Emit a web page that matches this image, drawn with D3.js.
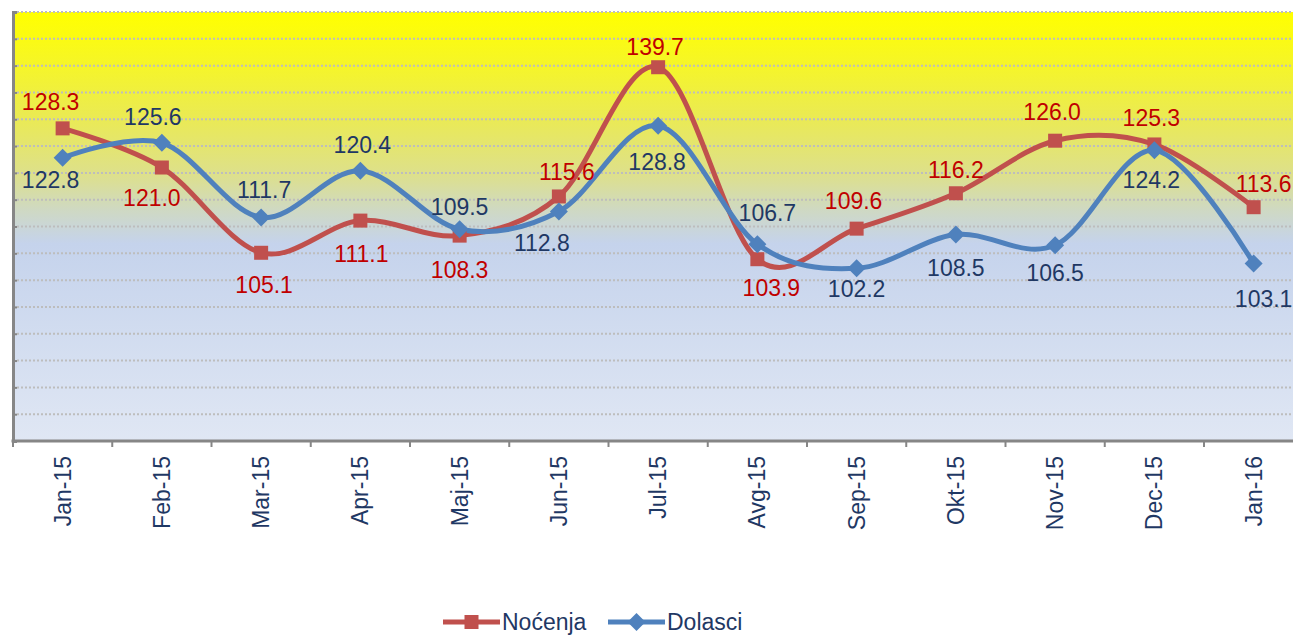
<!DOCTYPE html>
<html>
<head>
<meta charset="utf-8">
<script src="https://cdn.jsdelivr.net/npm/d3@7"></script>
<style>
  html, body { margin: 0; padding: 0; background: #ffffff; }
  svg { display: block; font-family: "Liberation Sans", Arial, sans-serif; }
</style>
</head>
<body>
<svg id="chart" width="1293" height="635"></svg>
<script>
// ---- data ----
const categories = ["Jan-15","Feb-15","Mar-15","Apr-15","Maj-15","Jun-15","Jul-15","Avg-15","Sep-15","Okt-15","Nov-15","Dec-15","Jan-16"];
const nocenja = [128.3, 121.0, 105.1, 111.1, 108.3, 115.6, 139.7, 103.9, 109.6, 116.2, 126.0, 125.3, 113.6];
const dolasci = [122.8, 125.6, 111.7, 120.4, 109.5, 112.8, 128.8, 106.7, 102.2, 108.5, 106.5, 124.2, 103.1];
const seriesNames = ["Noćenja", "Dolasci"];
const yTicks = [70, 75, 80, 85, 90, 95, 100, 105, 110, 115, 120, 125, 130, 135, 140, 145, 150];

// label placement offsets (pixels, relative to point): [dx, dy of baseline]
const nocenjaLabelOffsets = [[-12,-18],[-10,38],[3,40],[1,41],[0,42],[8,-16],[-3,-12],[14,37],[-3,-20],[0,-15],[-3,-21],[-3,-18],[10,-15]];
const dolasciLabelOffsets = [[-12,30],[-9,-18],[3,-19],[2,-18],[0,-14],[-17,40],[-1,44],[10,-23],[0,29],[0,41],[0,36],[-3,38],[10,43]];

(function () {
// ---- layout ----
const svg = d3.select("#chart");
const plotLeft = 13, plotTop = 12, plotBottom = 441;
const step = 99.25;
const plotRight = plotLeft + step * categories.length;

const x = d3.scaleBand().domain(categories).range([plotLeft, plotRight]).padding(0);
const y = d3.scaleLinear().domain([70, 150]).range([plotBottom, plotTop]);

const redLine = "#C0504D", blueLine = "#4F81BD";
const redText = "#C00000", blueText = "#1F3864";
const axisColor = "#868686";

// background gradient
const defs = svg.append("defs");
const grad = defs.append("linearGradient").attr("id", "bg").attr("x1", 0).attr("y1", 0).attr("x2", 0).attr("y2", 1);
[[0, "#ffff00"], [0.06, "#fbfb12"], [0.25, "#eaea55"], [0.38, "#dde08c"], [0.46, "#cfd9c2"], [0.54, "#c5d3ec"], [1, "#e0e7f4"]]
  .forEach(([o, c]) => grad.append("stop").attr("offset", o).attr("stop-color", c));

svg.append("rect")
  .attr("x", plotLeft).attr("y", plotTop)
  .attr("width", plotRight - plotLeft).attr("height", plotBottom - plotTop)
  .attr("fill", "url(#bg)");

// gridlines
svg.append("g").selectAll("line").data(yTicks.filter(t => t > 70)).join("line")
  .attr("x1", plotLeft).attr("x2", plotRight)
  .attr("y1", d => y(d)).attr("y2", d => y(d))
  .attr("stroke", "#bdbdbd").attr("stroke-width", 2)
  .attr("stroke-dasharray", "2,2");

// left axis
const yAxis = d3.axisRight(y).tickValues(yTicks).tickSize(4).tickFormat("");
const gy = svg.append("g").attr("transform", `translate(${plotLeft},0)`).call(yAxis);
gy.select(".domain").attr("stroke", axisColor).attr("stroke-width", 3);
gy.selectAll(".tick line").attr("stroke", axisColor).attr("stroke-width", 2);

// bottom axis
const boundaries = d3.range(categories.length + 1).map(i => plotLeft + i * x.step());
svg.append("g").selectAll("line").data(boundaries).join("line")
  .attr("x1", d => d).attr("x2", d => d)
  .attr("y1", plotBottom).attr("y2", plotBottom + 6)
  .attr("stroke", axisColor).attr("stroke-width", 2);
svg.append("line")
  .attr("x1", plotLeft - 1.5).attr("x2", plotRight)
  .attr("y1", plotBottom).attr("y2", plotBottom)
  .attr("stroke", axisColor).attr("stroke-width", 3);

// x labels
svg.append("g").selectAll("text").data(categories).join("text")
  .attr("transform", d => `translate(${x(d) + x.bandwidth() / 2},456) rotate(-90)`)
  .attr("text-anchor", "end")
  .attr("dy", "0.35em")
  .attr("font-size", 23)
  .attr("fill", blueText)
  .text(d => d);

// lines
const cx = (d, i) => x(categories[i]) + x.bandwidth() / 2;
const line = d3.line().x((d, i) => cx(d, i)).y(d => y(d)).curve(d3.curveCardinal.tension(0));

svg.append("path").datum(nocenja).attr("d", line)
  .attr("fill", "none").attr("stroke", redLine).attr("stroke-width", 5);
svg.append("path").datum(dolasci).attr("d", line)
  .attr("fill", "none").attr("stroke", blueLine).attr("stroke-width", 5);

// markers
const sq = 14, dm = 9;
svg.append("g").selectAll("rect").data(nocenja).join("rect")
  .attr("x", (d, i) => cx(d, i) - sq / 2).attr("y", d => y(d) - sq / 2)
  .attr("width", sq).attr("height", sq)
  .attr("fill", redLine);
const diamond = (px, py, r) => `M${px},${py - r}L${px + r},${py}L${px},${py + r}L${px - r},${py}Z`;
svg.append("g").selectAll("path").data(dolasci).join("path")
  .attr("d", (d, i) => diamond(cx(d, i), y(d), dm))
  .attr("fill", blueLine);

// data labels
const fmt = d3.format(".1f");
svg.append("g").selectAll("text").data(nocenja).join("text")
  .attr("x", (d, i) => cx(d, i) + nocenjaLabelOffsets[i][0])
  .attr("y", (d, i) => y(d) + nocenjaLabelOffsets[i][1])
  .attr("text-anchor", "middle").attr("font-size", 23).attr("fill", redText)
  .text(d => fmt(d));
svg.append("g").selectAll("text").data(dolasci).join("text")
  .attr("x", (d, i) => cx(d, i) + dolasciLabelOffsets[i][0])
  .attr("y", (d, i) => y(d) + dolasciLabelOffsets[i][1])
  .attr("text-anchor", "middle").attr("font-size", 23).attr("fill", blueText)
  .text(d => fmt(d));

// legend
const legend = svg.append("g");
const legItems = [
  { name: seriesNames[0], color: redLine, x0: 443, marker: "square" },
  { name: seriesNames[1], color: blueLine, x0: 608, marker: "diamond" }
];
const ly = 622;
legItems.forEach(it => {
  legend.append("line").attr("x1", it.x0).attr("x2", it.x0 + 57)
    .attr("y1", ly).attr("y2", ly).attr("stroke", it.color).attr("stroke-width", 5);
  const mx = it.x0 + 28.5;
  if (it.marker === "square") {
    legend.append("rect").attr("x", mx - 7).attr("y", ly - 7).attr("width", 14).attr("height", 14).attr("fill", it.color);
  } else {
    legend.append("path").attr("d", diamond(mx, ly, 9)).attr("fill", it.color);
  }
  legend.append("text").attr("x", it.x0 + 59).attr("y", ly + 8)
    .attr("font-size", 23).attr("fill", blueText).text(it.name);
});
})();
</script>
</body>
</html>
